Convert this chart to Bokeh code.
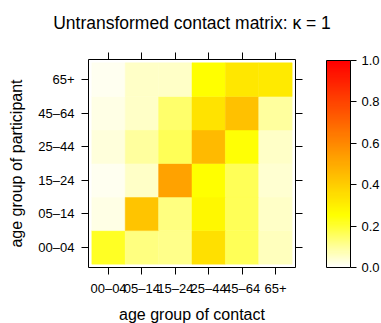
import colorsys
from bokeh.plotting import figure
from bokeh.models import (LinearColorMapper, ColorBar, FixedTicker, LinearAxis,
                          Range1d, ColumnDataSource, PrintfTickFormatter,
                          CustomLabelingPolicy)
from bokeh.transform import transform
from bokeh.embed import file_html
from bokeh.resources import INLINE

# ---- data ----
title_text = "Untransformed contact matrix: κ = 1"
age_groups = ["00–04", "05–14", "15–24", "25–44", "45–64", "65+"]
# rows: age group of participant; columns: age group of contact
row_00_04 = [0.21, 0.12, 0.11, 0.34, 0.16, 0.06]
row_05_14 = [0.02, 0.42, 0.12, 0.27, 0.16, 0.05]
row_15_24 = [0.01, 0.05, 0.52, 0.25, 0.16, 0.04]
row_25_44 = [0.03, 0.09, 0.16, 0.45, 0.24, 0.05]
row_45_64 = [0.02, 0.05, 0.14, 0.33, 0.43, 0.09]
row_65p = [0.01, 0.05, 0.05, 0.25, 0.32, 0.31]
colorbar_ticks = [0.0, 0.2, 0.4, 0.6, 0.8, 1.0]
rows = [row_00_04, row_05_14, row_15_24, row_25_44, row_45_64, row_65p]


def rev_heat_colors(n):
    j = n // 4
    i = n - j
    cols = []
    for k in range(i):
        h = (1 / 6) * k / (i - 1)
        cols.append(colorsys.hsv_to_rgb(h, 1, 1))
    s_hi, s_lo = 1 - 1 / (2 * j), 1 / (2 * j)
    for k in range(j):
        s = s_hi - k * (s_hi - s_lo) / (j - 1)
        cols.append(colorsys.hsv_to_rgb(1 / 6, s, 1))
    hexes = ["#%02x%02x%02x" % tuple(int(round(c * 255)) for c in rgb) for rgb in cols]
    return hexes[::-1]


palette = rev_heat_colors(100)

xs, ys, vals = [], [], []
for ri, r in enumerate(rows):
    for ci, v in enumerate(r):
        xs.append(ci + 1)
        ys.append(ri + 1)
        vals.append(v)
src = ColumnDataSource(dict(x=xs, y=ys, value=vals))

mapper = LinearColorMapper(palette=palette, low=0, high=1)

FONT = "Liberation Sans"
FW, FH = 207, 208
p = figure(frame_width=FW, frame_height=FH, output_backend="svg",
           toolbar_location=None, title=title_text,
           x_range=Range1d(0.4, 6.6), y_range=Range1d(0.4, 6.6),
           min_border_left=88, min_border_right=86, min_border_top=59,
           min_border_bottom=56, x_axis_location=None, y_axis_location=None)
p.rect(x="x", y="y", width=1, height=1, source=src,
       fill_color=transform("value", mapper),
       line_color=transform("value", mapper), line_width=0.5)

p.grid.visible = False
p.outline_line_color = "black"
p.outline_line_width = 1
p.background_fill_color = "white"
p.border_fill_color = "white"

ticks = list(range(1, len(age_groups) + 1))
overrides = {t: g for t, g in zip(ticks, age_groups)}
no_labels = CustomLabelingPolicy(
    code="for (const i of Array.from(indices)) { indices.unset(i) }\nreturn indices")


def style_axis(ax, labels=True):
    ax.ticker = FixedTicker(ticks=ticks)
    ax.axis_line_color = None
    ax.major_tick_in = 0
    ax.major_tick_out = 7
    ax.major_tick_line_color = "black"
    ax.minor_tick_line_color = None
    ax.major_label_text_font = FONT
    ax.major_label_text_font_size = "13px"
    ax.major_label_text_color = "black"
    if labels:
        ax.major_label_overrides = overrides
    else:
        ax.major_label_policy = no_labels
        ax.major_label_standoff = 0
    ax.axis_label_text_font = FONT
    ax.axis_label_text_font_size = "16px"
    ax.axis_label_text_font_style = "normal"
    ax.axis_label_text_color = "black"


bx = LinearAxis(axis_label="age group of contact")
style_axis(bx)
bx.major_label_standoff = 6
bx.axis_label_standoff = 7
p.add_layout(bx, "below")
lx = LinearAxis(axis_label="age group of participant")
style_axis(lx)
lx.major_label_standoff = 7
lx.axis_label_standoff = 10
p.add_layout(lx, "left")
tx = LinearAxis()
style_axis(tx, labels=False)
p.add_layout(tx, "above")
rx = LinearAxis()
style_axis(rx, labels=False)
p.add_layout(rx, "right")

cb = ColorBar(color_mapper=mapper, ticker=FixedTicker(ticks=colorbar_ticks),
              formatter=PrintfTickFormatter(format="%.1f"),
              width=24, height=207, padding=0, margin=0,
              major_tick_in=0, major_tick_out=6, major_tick_line_color="black",
              minor_tick_line_color=None, bar_line_color="black",
              label_standoff=5, major_label_text_font=FONT,
              major_label_text_font_size="13px", major_label_text_color="black",
              border_line_color=None, background_fill_color=None,
              location=(238, 0))
p.add_layout(cb, "center")

p.title.text_font = FONT
p.title.text_font_size = "17.5px"
p.title.text_font_style = "normal"
p.title.text_color = "black"
p.title.align = "center"
p.title.standoff = 15

open("out.html", "w").write(file_html(p, INLINE))
